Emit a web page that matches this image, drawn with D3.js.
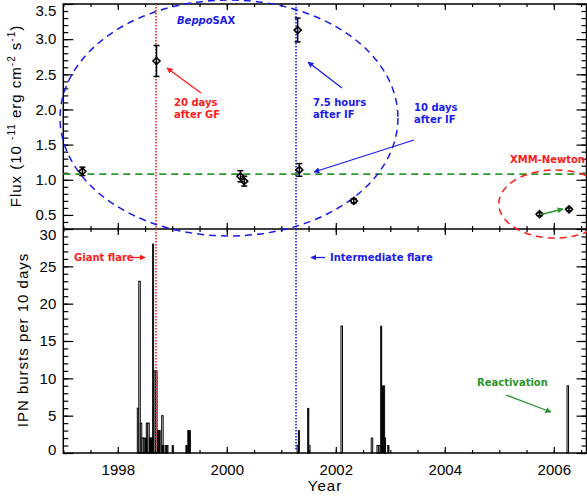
<!DOCTYPE html>
<html>
<head>
<meta charset="utf-8">
<script src="https://cdn.jsdelivr.net/npm/d3@7"></script>
<style>
    body { margin: 0; background: #fff; }
</style>
</head>
<body>
<div class="container"></div>
<script>
// flux points (top panel)
var fluxYears  = [1997.35, 1998.71, 2000.25, 2000.32, 2001.30, 2001.33, 2002.33, 2005.74, 2006.28];
var fluxValues = [1.12, 2.69, 1.05, 0.98, 3.13, 1.14, 0.70, 0.51, 0.58];
var fluxErrors = [0.06, 0.22, 0.08, 0.07, 0.17, 0.09, 0.03, 0.02, 0.02];
var meanFlux = 1.08;

// giant flare, intermediate flare
var flareYears = [1998.70, 2001.27];

// IPN bursts per 10 days (bottom panel)
var binWidth = 10 / 365.25;
var openBinYears  = [1998.358, 1998.385, 1998.413, 1998.440, 1998.468, 1998.523, 1998.550, 1998.578, 1998.605,
                     1998.665, 1998.693, 1998.805, 1998.866, 1998.893,
                     2001.290, 2001.500, 2002.095, 2002.650, 2002.755, 2002.782, 2002.885, 2006.243];
var openBinCounts = [6, 23, 4, 2, 2, 4, 4, 2, 2,
                     11, 11, 5, 1, 1,
                     1, 1, 17, 2, 1, 1, 2, 9];
var filledBinYears  = [1998.499, 1998.578, 1998.605, 1998.633, 1998.725, 1998.752, 1998.810, 1998.880, 1998.995,
                       1999.248, 1999.283, 1999.310, 2001.310, 2001.480, 2002.818, 2002.845, 2002.872, 2002.950];
var filledBinCounts = [2, 2, 2, 28, 3, 3, 1, 1, 1,
                       1, 3, 3, 3, 6, 17, 9, 9, 1];

// tick values
var fluxTicks = [0.5, 1.0, 1.5, 2.0, 2.5, 3.0, 3.5];
var countTicks = [0, 5, 10, 15, 20, 25, 30];
var yearTicks = [1998, 2000, 2002, 2004, 2006];

var RED = '#ff1a1a', BLUE = '#1a1aee', GREEN = '#2a942a';

var svg = d3.select('.container')
    .append('svg')
    .attr('width', 587)
    .attr('height', 497);

var x = d3.scaleLinear().domain([1997, 2006.6]).range([63.3, 586.5]);
var yFlux = d3.scaleLinear().domain([0.3, 3.5]).range([229, 4]);
var yCount = d3.scaleLinear().domain([0, 30]).range([453, 229]);

var defs = svg.append('defs');
[['red', RED], ['blue', BLUE], ['green', GREEN]].forEach(function (c) {
    defs.append('marker')
        .attr('id', 'arrow-' + c[0])
        .attr('viewBox', '0 0 10 10')
        .attr('refX', 9).attr('refY', 5)
        .attr('markerWidth', 6).attr('markerHeight', 6)
        .attr('markerUnits', 'userSpaceOnUse')
        .attr('orient', 'auto')
        .append('path')
        .attr('d', 'M0,0 L10,5 L0,10 z')
        .attr('fill', c[1]);
});

function arrow(x1, y1, x2, y2, name, color) {
    svg.append('line')
        .attr('x1', x1).attr('y1', y1).attr('x2', x2).attr('y2', y2)
        .attr('stroke', color)
        .attr('stroke-width', 1.3)
        .attr('marker-end', 'url(#arrow-' + name + ')');
}

function label(txt, px, py, color) {
    return svg.append('text')
        .attr('x', px).attr('y', py)
        .attr('fill', color)
        .attr('font-family', 'DejaVu Sans')
        .attr('font-weight', 'bold')
        .attr('font-size', 10)
        .text(txt);
}

function styleAxis(g) {
    g.select('.domain').remove();
    g.selectAll('line').attr('stroke', '#000').attr('stroke-width', 1.2);
    g.selectAll('text')
        .attr('fill', '#000')
        .attr('font-family', 'Liberation Sans')
        .attr('font-size', 15);
}

//bottom panel histogram

!function () {
    var openData = openBinYears.map(function (d, i) { return [d, openBinCounts[i]]; });
    var filledData = filledBinYears.map(function (d, i) { return [d, filledBinCounts[i]]; });

    svg.append('g').selectAll('rect')
        .data(openData)
        .enter()
        .append('rect')
        .attr('x', function (d) { return x(d[0]); })
        .attr('y', function (d) { return yCount(d[1]); })
        .attr('width', function (d) { return x(d[0] + binWidth) - x(d[0]); })
        .attr('height', function (d) { return yCount(0) - yCount(d[1]); })
        .attr('fill', '#fff')
        .attr('stroke', '#000')
        .attr('stroke-width', 1);

    svg.append('g').selectAll('rect')
        .data(filledData)
        .enter()
        .append('rect')
        .attr('x', function (d) { return x(d[0]); })
        .attr('y', function (d) { return yCount(d[1]); })
        .attr('width', function (d) { return x(d[0] + binWidth) - x(d[0]); })
        .attr('height', function (d) { return yCount(0) - yCount(d[1]); })
        .attr('fill', '#000')
        .attr('stroke', '#000')
        .attr('stroke-width', 0.6);
}();

//axes and frames

!function () {
    var fluxMinor = d3.range(3, 36).map(function (d) { return d / 10; });
    var countMinor = d3.range(0, 31);
    var yearMinor = d3.range(1997, 2006.6, 0.5);

    // flux panel, left and right
    svg.append('g').attr('transform', 'translate(63.3,0)')
        .call(d3.axisLeft(yFlux).tickValues(fluxMinor).tickSize(-5).tickFormat(''))
        .call(styleAxis);
    svg.append('g').attr('transform', 'translate(63.3,0)')
        .call(d3.axisLeft(yFlux).tickValues(fluxTicks).tickSize(-10).tickPadding(7).tickFormat(d3.format('.1f')))
        .call(styleAxis)
        .selectAll('text').filter(function (d) { return d === 3.5; }).attr('dy', '0.75em');
    svg.append('g').attr('transform', 'translate(586.5,0)')
        .call(d3.axisRight(yFlux).tickValues(fluxMinor).tickSize(-5).tickFormat(''))
        .call(styleAxis);
    svg.append('g').attr('transform', 'translate(586.5,0)')
        .call(d3.axisRight(yFlux).tickValues(fluxTicks).tickSize(-10).tickFormat(''))
        .call(styleAxis);

    // count panel, left and right
    svg.append('g').attr('transform', 'translate(63.3,0)')
        .call(d3.axisLeft(yCount).tickValues(countMinor).tickSize(-5).tickFormat(''))
        .call(styleAxis);
    var cl = svg.append('g').attr('transform', 'translate(63.3,0)')
        .call(d3.axisLeft(yCount).tickValues(countTicks).tickSize(-10).tickPadding(7))
        .call(styleAxis);
    cl.selectAll('text').filter(function (d) { return d === 30; }).attr('dy', '0.7em');
    cl.selectAll('text').filter(function (d) { return d === 0; }).attr('dy', '0.12em');
    svg.append('g').attr('transform', 'translate(586.5,0)')
        .call(d3.axisRight(yCount).tickValues(countMinor).tickSize(-5).tickFormat(''))
        .call(styleAxis);
    svg.append('g').attr('transform', 'translate(586.5,0)')
        .call(d3.axisRight(yCount).tickValues(countTicks).tickSize(-10).tickFormat(''))
        .call(styleAxis);

    // year ticks on the four horizontal edges
    [[4, 'top'], [229, 'bottom'], [229, 'top'], [453, 'bottom']].forEach(function (e) {
        var mk = e[1] === 'top' ? d3.axisTop : d3.axisBottom;
        svg.append('g').attr('transform', 'translate(0,' + e[0] + ')')
            .call(mk(x).tickValues(yearMinor).tickSize(-3).tickFormat(''))
            .call(styleAxis);
        svg.append('g').attr('transform', 'translate(0,' + e[0] + ')')
            .call(mk(x).tickValues(yearTicks).tickSize(-6).tickFormat(''))
            .call(styleAxis);
    });
    svg.append('g').attr('transform', 'translate(0,453)')
        .call(d3.axisBottom(x).tickValues(yearTicks).tickSize(0).tickPadding(11).tickFormat(d3.format('d')))
        .call(styleAxis);

    svg.append('rect')
        .attr('x', 63.3).attr('y', 4)
        .attr('width', 586.5 - 63.3).attr('height', 449)
        .attr('fill', 'none').attr('stroke', '#000').attr('stroke-width', 1.5);
    svg.append('line')
        .attr('x1', 63.3).attr('x2', 586.5).attr('y1', 229).attr('y2', 229)
        .attr('stroke', '#000').attr('stroke-width', 1.5);

    // axis titles
    var ft = svg.append('text')
        .attr('transform', 'translate(21,116) rotate(-90)')
        .attr('text-anchor', 'middle')
        .attr('font-family', 'Liberation Sans')
        .attr('font-size', 15)
        .attr('letter-spacing', 1)
        .attr('fill', '#000');
    ft.append('tspan').text('Flux (10 ');
    ft.append('tspan').attr('font-size', 10).attr('dy', -6).text('-11');
    ft.append('tspan').attr('dy', 6).text(' erg cm');
    ft.append('tspan').attr('font-size', 10).attr('dy', -6).text('-2');
    ft.append('tspan').attr('dy', 6).text(' s');
    ft.append('tspan').attr('font-size', 10).attr('dy', -6).text('-1');
    ft.append('tspan').attr('dy', 6).text(')');

    svg.append('text')
        .attr('transform', 'translate(28,340) rotate(-90)')
        .attr('text-anchor', 'middle')
        .attr('font-family', 'Liberation Sans')
        .attr('font-size', 15)
        .attr('letter-spacing', 1)
        .text('IPN bursts per 10 days');

    svg.append('text')
        .attr('x', 325).attr('y', 491)
        .attr('text-anchor', 'middle')
        .attr('font-family', 'Liberation Sans')
        .attr('font-size', 15)
        .attr('letter-spacing', 1)
        .text('Year');
}();

//flare lines, mean flux, ellipses, points

!function () {
    svg.selectAll('.flare')
        .data(flareYears)
        .enter()
        .append('line')
        .attr('class', 'flare')
        .attr('x1', function (d) { return x(d); })
        .attr('x2', function (d) { return x(d); })
        .attr('y1', yFlux(3.5))
        .attr('y2', yCount(0) - 3)
        .attr('stroke', function (d, i) { return i === 0 ? RED : BLUE; })
        .attr('stroke-width', 1.6)
        .attr('stroke-dasharray', '1.5,1.5');

    svg.append('line')
        .attr('x1', x(1997)).attr('x2', x(2006.6))
        .attr('y1', yFlux(meanFlux)).attr('y2', yFlux(meanFlux))
        .attr('stroke', GREEN)
        .attr('stroke-width', 1.6)
        .attr('stroke-dasharray', '7,5');

    // BeppoSAX and XMM-Newton regions
    svg.append('ellipse')
        .attr('cx', x(2000.04)).attr('cy', yFlux(1.879))
        .attr('rx', x(2000.04 + 3.10) - x(2000.04))
        .attr('ry', yFlux(1.879 - 1.678) - yFlux(1.879))
        .attr('fill', 'none').attr('stroke', BLUE)
        .attr('stroke-width', 1.5).attr('stroke-dasharray', '7,5');
    svg.append('ellipse')
        .attr('cx', x(2006.02)).attr('cy', yFlux(0.656))
        .attr('rx', x(2006.02 + 1.03) - x(2006.02))
        .attr('ry', yFlux(0.656 - 0.484) - yFlux(0.656))
        .attr('fill', 'none').attr('stroke', RED)
        .attr('stroke-width', 1.5).attr('stroke-dasharray', '7,5');

    var pts = svg.append('g').selectAll('g')
        .data(fluxYears.map(function (d, i) { return [d, fluxValues[i], fluxErrors[i]]; }))
        .enter()
        .append('g')
        .attr('transform', function (d) { return 'translate(' + x(d[0]) + ',0)'; });
    pts.append('line')
        .attr('y1', function (d) { return yFlux(d[1] - d[2]); })
        .attr('y2', function (d) { return yFlux(d[1] + d[2]); })
        .attr('stroke', '#000').attr('stroke-width', 1.5);
    [0, 1].forEach(function (s) {
        pts.append('line')
            .attr('x1', -3).attr('x2', 3)
            .attr('y1', function (d) { return yFlux(d[1] + (s ? d[2] : -d[2])); })
            .attr('y2', function (d) { return yFlux(d[1] + (s ? d[2] : -d[2])); })
            .attr('stroke', '#000').attr('stroke-width', 1.5);
    });
    pts.append('path')
        .attr('transform', function (d) { return 'translate(0,' + yFlux(d[1]) + ')'; })
        .attr('d', 'M0,-3.5L3.5,0L0,3.5L-3.5,0Z')
        .attr('fill', 'none')
        .attr('stroke', '#000').attr('stroke-width', 1.6);
}();

//annotations

!function () {
    var b = svg.append('text')
        .attr('x', 177).attr('y', 24)
        .attr('fill', BLUE)
        .attr('font-family', 'DejaVu Sans')
        .attr('font-weight', 'bold')
        .attr('font-size', 10);
    b.append('tspan').attr('font-style', 'italic').text('Beppo');
    b.append('tspan').text('SAX');

    label('20 days', 174, 106, RED);
    label('after GF', 174, 118, RED);
    arrow(201, 93, 167, 68, 'red', RED);

    label('7.5 hours', 313, 106, BLUE);
    label('after IF', 313, 118, BLUE);
    arrow(342, 88, 308, 62, 'blue', BLUE);

    label('10 days', 414, 111, BLUE);
    label('after IF', 414, 123, BLUE);
    arrow(414, 140, 314, 172, 'blue', BLUE);

    label('XMM-Newton', 510, 163, RED);
    arrow(541, 214.5, 563, 209, 'green', GREEN);

    label('Giant flare', 74, 261, RED);
    arrow(133, 257.5, 145, 257.5, 'red', RED);

    label('Intermediate flare', 330, 261, BLUE);
    arrow(325, 257.5, 311, 257.5, 'blue', BLUE);

    label('Reactivation', 477, 386, GREEN);
    arrow(506, 395, 551, 412, 'green', GREEN);
}();
</script>
</body>
</html>
